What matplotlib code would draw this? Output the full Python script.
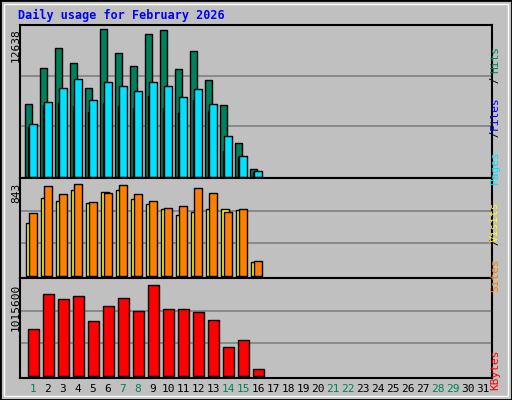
import matplotlib
matplotlib.use("Agg")
import matplotlib.pyplot as plt
from matplotlib.patches import Rectangle

days = list(range(1, 32))
hits = [6205, 9293, 11008, 9722, 7577, 12638, 10579, 9464, 12209, 12552, 9207, 10751, 8263, 6119, 2859, 629]
files = [4489, 6376, 7577, 8349, 6548, 8092, 7749, 7320, 8092, 7749, 6805, 7491, 6205, 3460, 1744, 457]
pages = [4232, 6119, 6290, 6033, 5518, 6290, 6033, 5861, 6891, 5861, 5433, 6548, 5604, 2173, 1658, 372]
sites = [486, 715, 687, 788, 669, 770, 788, 706, 660, 614, 559, 586, 614, 614, 605, 128]
visits = [577, 825, 751, 843, 678, 761, 834, 751, 687, 623, 641, 806, 761, 586, 614, 137]
kbytes = [526000, 915500, 860000, 893000, 615000, 782000, 871000, 726000, 1015600,
          749000, 749000, 715000, 626000, 326000, 404000, 81500]
weekend = [1, 7, 8, 14, 15, 21, 22, 28, 29]

W, H = 512, 400
fig = plt.figure(figsize=(W / 100, H / 100), dpi=100, facecolor="#C0C0C0")
mono = "DejaVu Sans Mono"

# outer border
fig.add_artist(Rectangle((0, 0), 1, 1, transform=fig.transFigure, fill=False,
                         edgecolor="black", lw=2))
fig.add_artist(Rectangle((4 / W, 4 / H), 1 - 8 / W, 1 - 8 / H, transform=fig.transFigure,
                         fill=False, edgecolor="white", lw=1))


def panel(top, bottom):
    ax = fig.add_axes([20 / W, 1 - bottom / H, 472 / W, (bottom - top) / H])
    ax.set_facecolor("#C0C0C0")
    ax.set_xlim(0.267, 31.73)
    ax.set_xticks([])
    ax.set_yticks([])
    for s in ax.spines.values():
        s.set_color("black")
        s.set_linewidth(1.5)
    return ax


def grid(ax, ymax):
    for f in (1 / 3, 2 / 3):
        ax.axhline(ymax * f, color="#808080", lw=1.2, zorder=0)


x = [d + 0.13 for d in days[:len(hits)]]
kw = dict(edgecolor="black", linewidth=1, zorder=2)

ax1 = panel(25, 178)
m = max(hits)
ax1.set_ylim(-m * 0.009, m * 1.03)
grid(ax1, m * 1.03)
ax1.bar([i - 0.3 for i in x], hits, width=0.47, color="#00805C", **kw)
ax1.bar([i - 0.2 for i in x], pages, width=0.2, color="#0000FF", **kw)
ax1.bar([i + 0.0 for i in x], files, width=0.5, color="#00E0FF", **kw)

ax2 = panel(178, 278)
m = max(visits)
ax2.set_ylim(-m * 0.02, m * 1.06)
grid(ax2, m * 1.06)
ax2.bar([i - 0.2 for i in x], sites, width=0.55, color="#FFFF00", **kw)
ax2.bar([i + 0.0 for i in x], visits, width=0.49, color="#FF8000", **kw)

ax3 = panel(278, 378)
m = max(kbytes)
ax3.set_ylim(-m * 0.02, m * 1.08)
grid(ax3, m * 1.08)
ax3.bar([i + 0.03 for i in x], kbytes, width=0.69, color="#FF0000", **kw)

for i in days:
    ax3.text(i + 0.13, -0.06, str(i), transform=ax3.get_xaxis_transform(),
             ha="center", va="top", fontsize=8, family=mono,
             color="#00805C" if i in weekend else "black")

fig.text(18 / W, 1 - 15 / H, "Daily usage for February 2026", color="#0000FF",
         fontsize=8.5, fontweight="bold", family=mono, va="center")

for txt, y in (("12638", 28), ("843", 183), ("1015600", 284)):
    fig.text(16 / W, 1 - y / H, txt, rotation=90, ha="center", va="top",
             fontsize=8, family=mono)


def side(parts, ycenter):
    fs = 8
    ch = fs * 0.602 * 100 / 72
    total = sum(len(t) for t, c in parts)
    y = ycenter + total * ch / 2
    for t, c in parts:
        fig.text(500 / W, 1 - y / H, t, rotation=90, color=c, fontsize=fs,
                 family=mono, ha="center", va="bottom", rotation_mode="anchor")
        y -= len(t) * ch


side([("Pages", "#00E0FF"), (" / ", "black"), ("Files", "#0000FF"), (" / ", "black"),
      ("Hits", "#00805C")], 100)
side([("Sites", "#FF8000"), (" / ", "black"), ("Visits", "#FFFF00")], 228)
side([("KBytes", "#FF0000")], 350)

fig.savefig("out.png", dpi=100, facecolor=fig.get_facecolor())
